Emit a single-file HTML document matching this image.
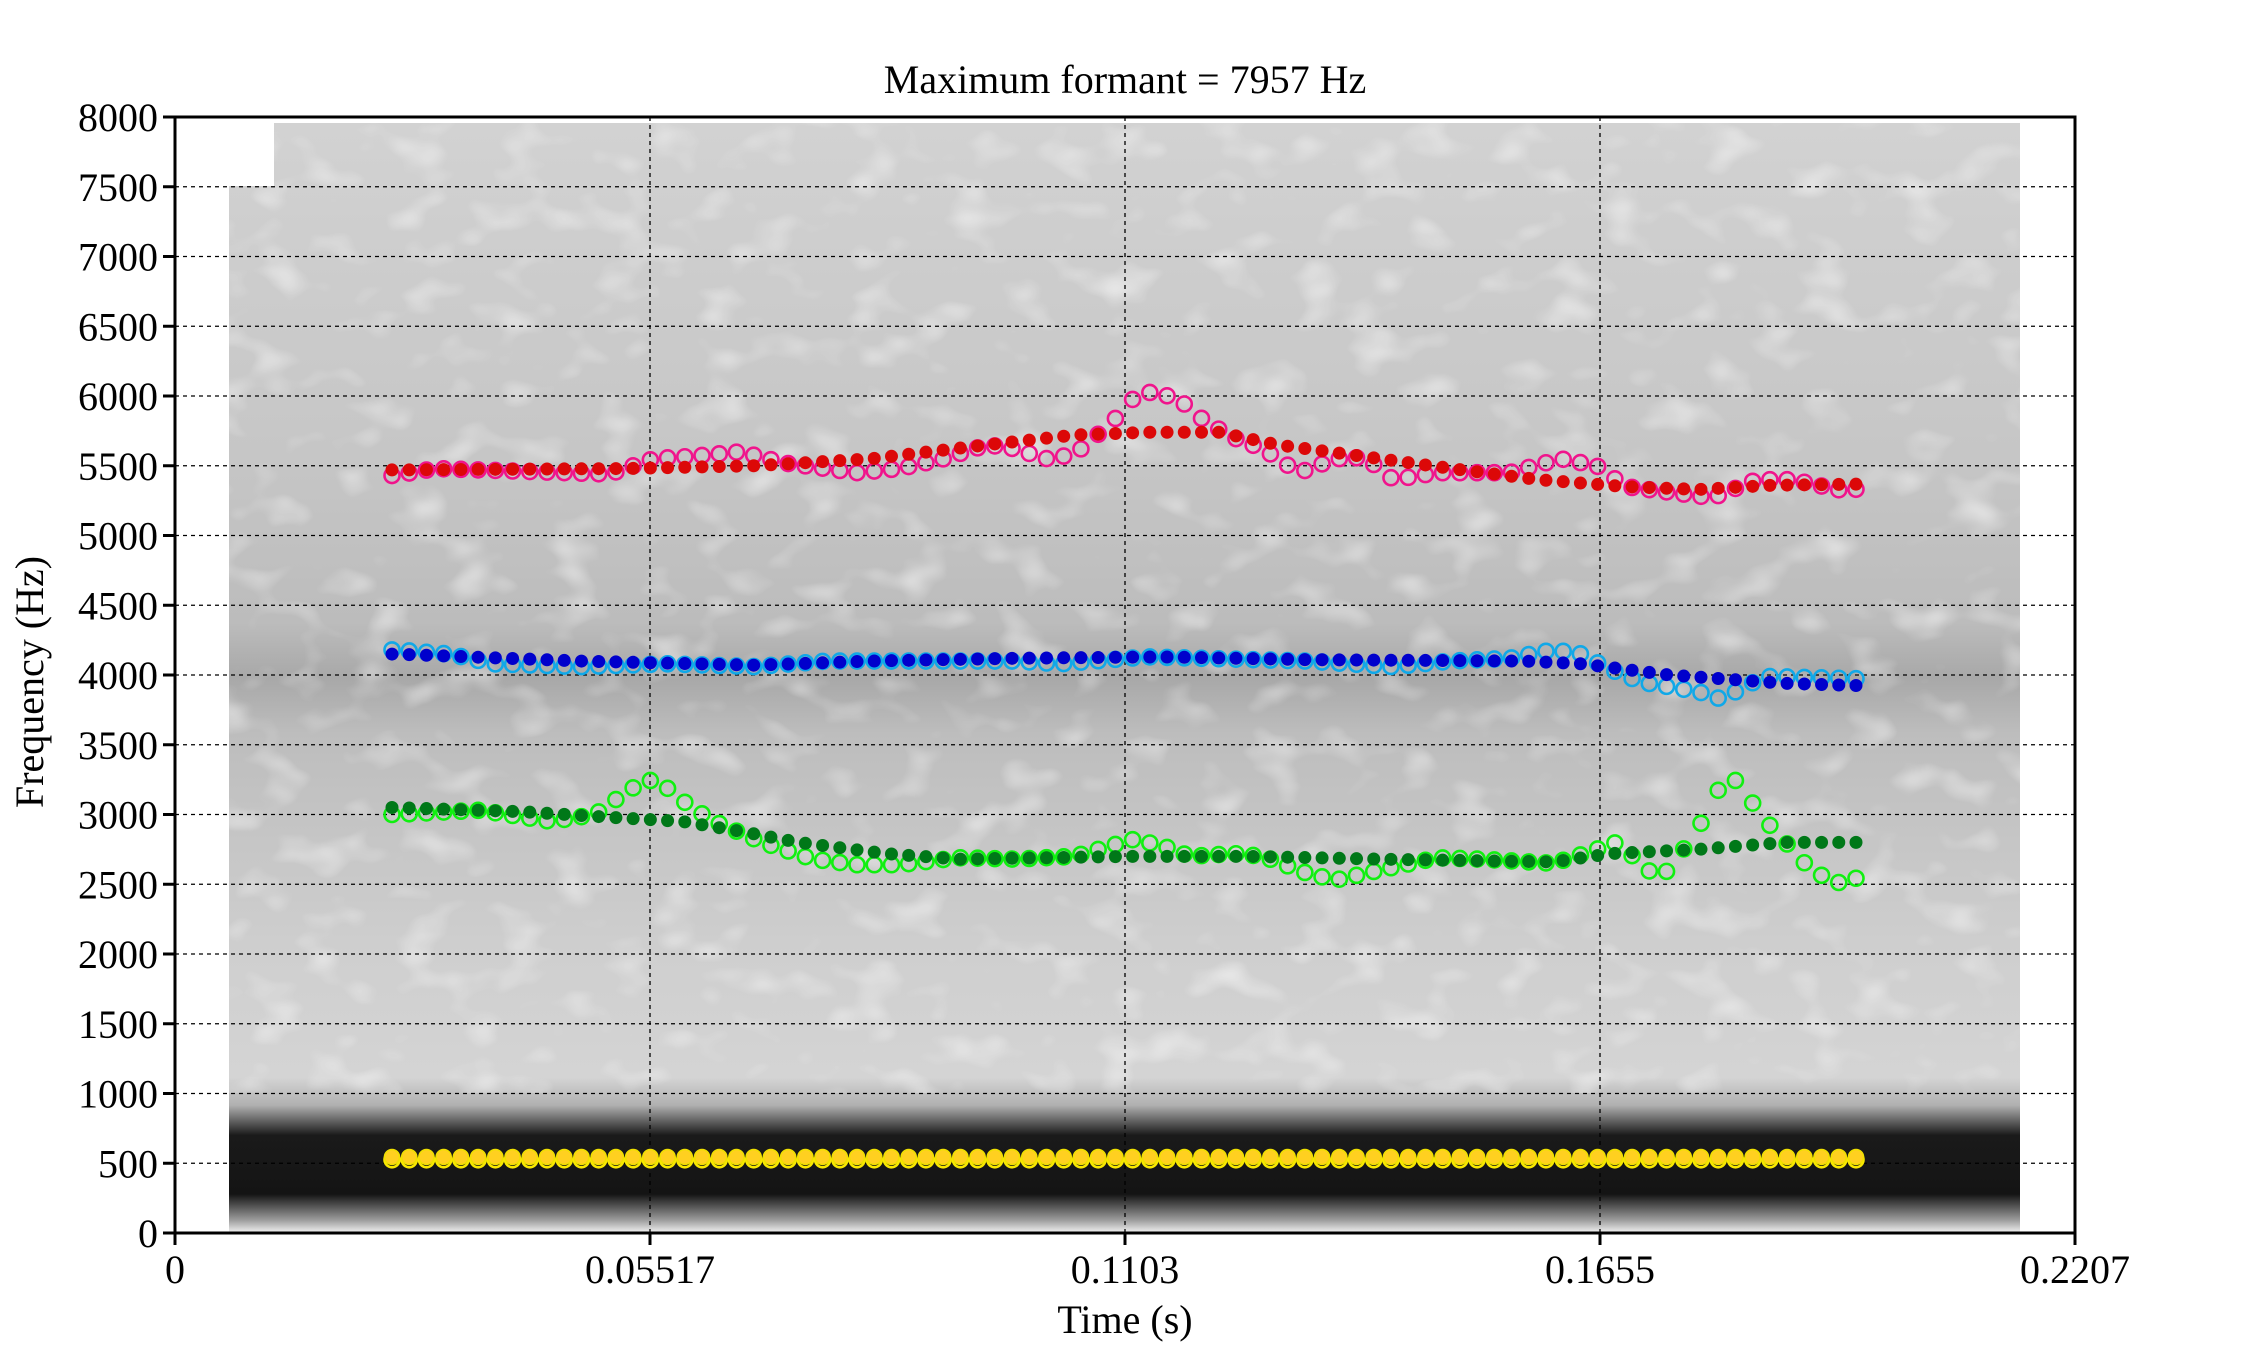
<!DOCTYPE html>
<html><head><meta charset="utf-8">
<style>
html,body{margin:0;padding:0;background:#fff;}
svg{display:block;}
text{font-family:"Liberation Serif",serif;fill:#000;}
</style></head>
<body>
<svg id="s" width="2250" height="1350" viewBox="0 0 2250 1350" xmlns="http://www.w3.org/2000/svg">
<defs>
<linearGradient id="g" x1="0" y1="0" x2="0" y2="1">
<stop offset="0" stop-color="#d2d2d2"/>
<stop offset="0.3" stop-color="#c6c6c6"/>
<stop offset="0.45" stop-color="#bcbcbc"/>
<stop offset="0.5" stop-color="#a8a8a8"/>
<stop offset="0.55" stop-color="#bdbdbd"/>
<stop offset="0.75" stop-color="#cfcfcf"/>
<stop offset="0.86" stop-color="#d4d4d4"/>
<stop offset="0.885" stop-color="#b0b0b0"/>
<stop offset="0.912" stop-color="#1a1a1a"/>
<stop offset="0.965" stop-color="#141414"/>
<stop offset="0.988" stop-color="#9a9a9a"/>
<stop offset="1" stop-color="#f4f4f4"/>
</linearGradient>
<filter id="n" x="0" y="0" width="1" height="1">
<feTurbulence type="fractalNoise" baseFrequency="0.02 0.03" numOctaves="2" seed="3"/>
<feColorMatrix type="matrix" values="0 0 0 0 1  0 0 0 0 1  0 0 0 0 1  0 0 0 1.6 -0.85"/>
</filter>
</defs>
<!-- spectrogram -->
<rect x="229" y="123" width="1791" height="1110" fill="url(#g)"/>
<rect x="229" y="123" width="1791" height="970" filter="url(#n)" opacity="0.8"/>
<rect x="229" y="123" width="45" height="63" fill="#fff"/>
<g id="grid" stroke="#000" stroke-width="1.3" stroke-dasharray="4,4" fill="none"></g>
<g id="pts"></g>
<!-- axes -->
<rect x="175" y="117" width="1900" height="1116" fill="none" stroke="#000" stroke-width="3"/>
<g id="ticks" stroke="#000" stroke-width="3"></g>
<g id="labels" font-size="40"></g>
<text x="1125" y="93" font-size="40" text-anchor="middle">Maximum formant = 7957 Hz</text>
<text x="1125" y="1333" font-size="40" text-anchor="middle">Time (s)</text>
<text transform="translate(43,682) rotate(-90)" font-size="40" text-anchor="middle">Frequency (Hz)</text>
</svg>
<script>
const NS="http://www.w3.org/2000/svg";
const L=175,R=2075,T=117,B=1233;
const fy=f=>B-f*(B-T)/8000;
function el(p,tag,a,txt){const e=document.createElementNS(NS,tag);for(const k in a)e.setAttribute(k,a[k]);if(txt!==undefined)e.textContent=txt;p.appendChild(e);return e;}
const grid=document.getElementById('grid'),ticks=document.getElementById('ticks'),labels=document.getElementById('labels');
for(let v=0;v<=8000;v+=500){const y=fy(v);
 if(v>0&&v<8000)el(grid,'line',{x1:L,x2:R,y1:y,y2:y});
 el(ticks,'line',{x1:L-12,x2:L,y1:y,y2:y});
 el(labels,'text',{x:158,y:y+14,'text-anchor':'end'},String(v));}
const xt=[[175,'0'],[650,'0.05517'],[1125,'0.1103'],[1600,'0.1655'],[2075,'0.2207']];
xt.forEach(([x,s],i)=>{ if(i>0&&i<4)el(grid,'line',{x1:x,x2:x,y1:T,y2:B});
 el(ticks,'line',{x1:x,x2:x,y1:B,y2:B+12});
 el(labels,'text',{x:x,y:1283,'text-anchor':'middle'},s);});
const N=86,x0=392,dx=(1856-392)/85;
function interp(k,x){if(x<=k[0][0])return k[0][1];for(let i=1;i<k.length;i++){if(x<=k[i][0]){const a=k[i-1],b=k[i];return a[1]+(b[1]-a[1])*(x-a[0])/(b[0]-a[0]);}}return k[k.length-1][1];}
const S=1.4516;
function series(k){return k.map(([x,f])=>[x*S,f]);}
const F4f=series([[272,5470],[430,5480],[520,5500],[600,5550],[680,5650],[740,5720],[790,5740],[840,5740],[880,5650],[930,5580],[1000,5480],[1060,5400],[1120,5350],[1170,5330],[1220,5360],[1293,5370]]);
const F4o=series([[272,5430],[300,5480],[360,5460],[420,5440],[450,5550],[480,5570],[510,5600],[540,5520],[590,5450],[620,5480],[650,5550],[680,5650],[700,5620],[720,5550],[740,5580],[765,5800],[785,6030],[800,6020],[815,5950],[830,5820],[850,5700],[870,5620],[895,5450],[920,5550],[940,5560],[960,5400],[990,5450],[1040,5450],[1075,5550],[1100,5500],[1120,5350],[1180,5270],[1210,5400],[1235,5400],[1270,5320],[1293,5350]]);
const F3f=series([[272,4150],[400,4100],[520,4070],[600,4100],[700,4120],[800,4130],[900,4110],[1050,4100],[1090,4080],[1150,4000],[1230,3940],[1293,3920]]);
const F3o=series([[272,4180],[310,4150],[340,4080],[400,4060],[460,4080],[520,4060],[570,4100],[700,4100],[730,4080],[790,4130],[900,4100],[960,4060],[1000,4100],[1040,4120],[1070,4180],[1090,4150],[1105,4060],[1130,3950],[1170,3880],[1185,3830],[1200,3900],[1215,3990],[1293,3970]]);
const F2f=series([[272,3050],[360,3020],[420,2980],[470,2950],[510,2880],[550,2800],[610,2720],[660,2680],[780,2700],[860,2700],[950,2680],[1070,2660],[1110,2720],[1170,2750],[1230,2800],[1293,2800]]);
const F2o=series([[272,3000],[330,3030],[380,2950],[410,3000],[430,3150],[445,3250],[455,3230],[470,3100],[490,2960],[525,2800],[560,2680],[590,2640],[620,2640],[660,2690],[700,2680],[740,2700],[780,2820],[800,2780],[820,2700],[850,2720],[870,2700],[900,2580],[920,2530],[950,2600],[990,2690],[1020,2680],[1070,2650],[1095,2730],[1112,2800],[1125,2700],[1140,2560],[1150,2600],[1172,2940],[1185,3200],[1197,3250],[1210,3040],[1225,2850],[1235,2750],[1245,2630],[1257,2550],[1270,2500],[1282,2560],[1293,2700]]);
const F1f=[[0,545],[3000,545]], F1o=[[0,525],[3000,525]];
const pts=document.getElementById('pts');
function drawOpen(k,col){for(let i=0;i<N;i++){const x=x0+i*dx;el(pts,'circle',{cx:x,cy:fy(interp(k,x)),r:7.5,fill:'none',stroke:col,'stroke-width':2.6});}}
function drawFill(k,col,st){for(let i=0;i<N;i++){const x=x0+i*dx;const a={cx:x,cy:fy(interp(k,x)),r:st?7.5:6.5,fill:col};if(st){a.stroke=st;a['stroke-width']=1.5;}el(pts,'circle',a);}}
drawOpen(F4o,'#f0148c');drawFill(F4f,'#dc0808');
drawOpen(F3o,'#10a8e8');drawFill(F3f,'#0000cc');
drawOpen(F2o,'#10f010');drawFill(F2f,'#007818');
drawOpen(F1o,'#f8e800');drawFill(F1f,'#ffd020','#f0e000');
</script>
</body></html>
